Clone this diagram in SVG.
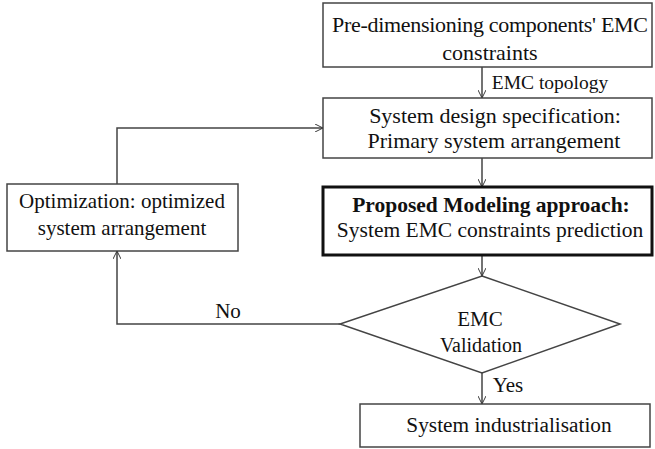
<svg xmlns="http://www.w3.org/2000/svg" width="655" height="449" viewBox="0 0 655 449">
<defs>
<marker id="arr" viewBox="0 0 10 10" refX="10" refY="5" markerWidth="8" markerHeight="8" orient="auto" markerUnits="userSpaceOnUse">
<path d="M0,0 L10,5 L0,10" fill="none" stroke="#333" stroke-width="1.2"/>
</marker>
<style>
.box{fill:#fff;stroke:#444;stroke-width:1.5}
.bold{fill:#fff;stroke:#111;stroke-width:3}
.t{font-family:"Liberation Serif","Times New Roman",serif;font-size:22px;fill:#111;text-anchor:middle}
.b{font-weight:bold}
.c{fill:none;stroke:#444;stroke-width:1.5}
</style>
</defs>
<rect width="655" height="449" fill="#fff"/>
<g id="connectors">
<line class="c" x1="482" y1="67" x2="482" y2="98" marker-end="url(#arr)"/>
<line class="c" x1="482" y1="158" x2="482" y2="187" marker-end="url(#arr)"/>
<line class="c" x1="482" y1="255" x2="482" y2="276" marker-end="url(#arr)"/>
<line class="c" x1="482" y1="373" x2="482" y2="404" marker-end="url(#arr)"/>
<polyline class="c" points="340,324 117,324 117,251" marker-end="url(#arr)"/>
<polyline class="c" points="117,184 117,128 323,128" marker-end="url(#arr)"/>
<text class="t" x="550" y="89" style="font-size:19.5px">EMC topology</text>
<text class="t" x="228" y="318" style="font-size:21px">No</text>
<text class="t" x="508" y="392" style="font-size:21px">Yes</text>
</g>
<g id="n1">
<rect class="box" x="323" y="3" width="329" height="64"/>
<text class="t" x="490" y="32" textLength="316">Pre-dimensioning components' EMC</text>
<text class="t" x="490" y="60">constraints</text>
</g>
<g id="n2">
<rect class="box" x="323" y="98" width="329" height="60"/>
<text class="t" x="495" y="123">System design specification:</text>
<text class="t" x="494" y="148">Primary system arrangement</text>
</g>
<g id="n3">
<rect class="bold" x="323" y="187" width="329" height="68"/>
<text class="t b" x="491" y="212" style="font-size:21.5px">Proposed Modeling approach:</text>
<text class="t" x="490" y="237" style="font-size:21.5px">System EMC constraints prediction</text>
</g>
<g id="n4">
<rect class="box" x="7" y="184" width="231" height="67"/>
<text class="t" x="122" y="208" style="font-size:21px">Optimization: optimized</text>
<text class="t" x="122" y="235" style="font-size:21px">system arrangement</text>
</g>
<g id="n5">
<polygon class="box" points="482,276 620,324 482,373 340,324"/>
<text class="t" x="480" y="326" style="font-size:21px">EMC</text>
<text class="t" x="481" y="352" style="font-size:20px">Validation</text>
</g>
<g id="n6">
<rect class="box" x="360" y="404" width="290" height="43"/>
<text class="t" x="509" y="432" style="font-size:21.3px">System industrialisation</text>
</g>
</svg>
